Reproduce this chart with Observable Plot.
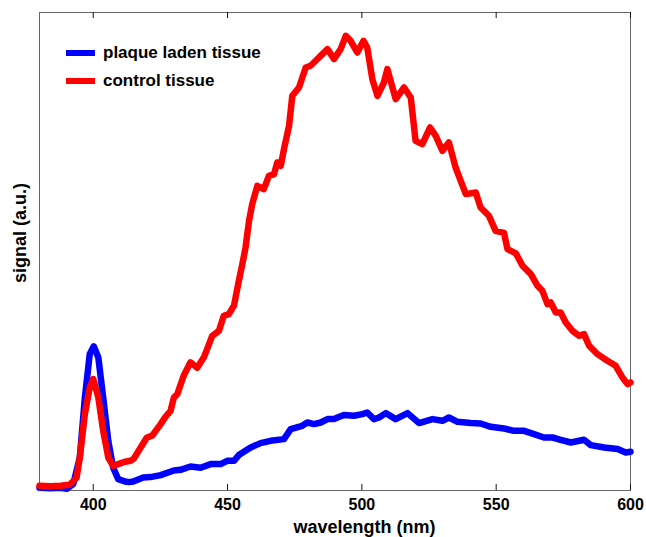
<!DOCTYPE html>
<html>
<head>
<meta charset="utf-8">
<script src="https://cdn.jsdelivr.net/npm/d3@7"></script>
<script src="https://cdn.jsdelivr.net/npm/@observablehq/plot@0.6"></script>
<style>
  body { margin: 0; background: #fff; }
  #wrap { position: relative; width: 646px; height: 537px; font-family: "Liberation Sans", Arial, sans-serif; }
  .legend { position: absolute; left: 0; top: 0; }
  .row { position: absolute; display: flex; align-items: center; white-space: nowrap; font-weight: bold; font-size: 17px; color: #000; }
  .swatch { width: 29px; height: 6px; margin-right: 8px; }
</style>
</head>
<body>
<div id="wrap"></div>
<script>
// Wavelength axis ticks
const xTicks = [400, 450, 500, 550, 600];

// Series labels
const seriesNames = ["plaque laden tissue", "control tissue"];
const seriesColors = ["#0000ff", "#ff0000"];

// plaque laden tissue (blue)
const plaqueWavelength = [380.0,384.1,387.8,390.1,392.6,395.0,396.9,398.7,400.2,401.9,
  403.7,405.6,407.4,409.3,411.8,413.3,414.9,418.6,421.3,425.1,
  430.0,432.5,436.2,440.0,443.7,447.4,449.9,452.4,454.2,458.6,
  462.3,466.0,471.0,473.5,477.8,479.7,482.2,484.7,487.2,489.6,
  493.3,497.1,500.2,502.0,504.5,506.4,508.9,512.6,517.0,521.3,
  526.3,530.0,532.4,535.6,540.5,544.2,548.0,552.9,556.6,560.4,
  564.1,567.8,571.0,574.0,577.8,582.7,585.2,590.2,595.2,598.2,600.0];
const plaqueSignal = [2.7,2.2,2.7,1.7,6.7,33,93,136.4,144.2,133,
  93,49.7,23,11.4,9,8.4,9,13,13.4,15.4,
  20,20.7,24,22.7,26.4,26.4,29.7,29.7,35.4,43,
  47.4,49.7,51.4,61.4,64.7,68,66.4,68,71.4,71.4,
  75.4,74.7,76.4,78,71.4,73,77.4,71.4,77.4,67.4,
  71.4,69.7,73,68.7,67.4,67,63.7,62,59.7,59.7,
  56.4,53,53,50.7,48,50.7,45.4,43,41.4,38,38.7];

// control tissue (red)
const controlWavelength = [380.0,384.1,387.8,391.2,393.8,395.0,396.9,398.7,400.0,401.9,
  403.7,405.6,407.4,409.3,411.8,413.9,415.1,417.6,419.9,422.0,
  425.1,426.9,428.8,430.0,431.3,433.7,436.2,438.7,441.2,444.3,
  446.8,448.6,450.5,452.4,454.2,455.6,456.7,458.0,459.2,461.1,
  463.5,465.4,467.3,468.5,469.8,471.0,472.9,474.1,476.6,479.1,
  480.9,482.8,485.3,487.2,489.6,492.1,494.0,495.8,498.3,500.6,
  502.0,503.9,505.8,508.2,509.5,510.7,512.6,515.7,518.2,520.0,
  522.5,525.4,527.5,530.0,532.4,534.9,536.8,538.7,542.4,544.2,
  547.3,549.8,552.9,554.2,557.3,559.8,562.9,565.4,567.2,569.1,
  570.3,572.2,574.0,575.9,578.4,580.9,582.7,584.6,587.7,591.4,
  594.5,597.0,598.9,600.0];
const controlSignal = [4.7,4.2,4.7,5.7,12.7,33,76.7,103,111.4,93,
  59.7,33,24.7,26.4,28.7,29.7,31.7,42.7,52.7,55,
  66.4,73.7,79.7,92.7,96.4,115,128.2,122.7,133.2,154.7,
  159.7,174.7,176.4,185,209.7,227.7,243,269.7,286.7,304.7,
  301.4,314.7,316.4,328,324.7,341.4,364.7,394.7,403,423,
  424.7,429.7,436.4,441.4,431.4,441.4,454.7,449.7,438,449.7,
  443,411.4,394.7,408,421.4,409.7,391.4,403,393,349.7,
  346.4,363,354.7,339.7,348,323,309.7,296.4,298,283,
  274.7,259.7,257.7,241.4,237.2,224.7,216.4,204.7,199.7,186.4,
  188,178,178,168,159.7,154.7,156.4,144.7,136.4,129.7,
  124.7,113,106.4,108];

const xLabel = "wavelength (nm)";
const yLabel = "signal (a.u.)";

const plaque = plaqueWavelength.map((w, i) => ({wavelength: w, signal: plaqueSignal[i]}));
const control = controlWavelength.map((w, i) => ({wavelength: w, signal: controlSignal[i]}));

const chart = Plot.plot({
  width: 646,
  height: 537,
  marginLeft: 39,
  marginRight: 16,
  marginTop: 12,
  marginBottom: 47,
  style: {fontFamily: "'Liberation Sans', Arial, sans-serif", fontWeight: "bold", color: "#000", background: "#fff"},
  x: {domain: [380, 600], axis: null},
  y: {domain: [0, 478], axis: null},
  marks: [
    Plot.frame({stroke: "#666", strokeWidth: 1}),
    Plot.tickX(xTicks, {x: d => d, stroke: "#111", insetTop: 472}),
    Plot.tickX(xTicks, {x: d => d, stroke: "#111", insetBottom: 472}),
    Plot.axisX({ticks: xTicks, tickSize: 0, tickPadding: 8, fontSize: 16, fontWeight: "bold", label: null}),
    Plot.line(plaque, {x: "wavelength", y: "signal", stroke: seriesColors[0], strokeWidth: 6.5, strokeLinejoin: "round", strokeLinecap: "round"}),
    Plot.line(control, {x: "wavelength", y: "signal", stroke: seriesColors[1], strokeWidth: 6.5, strokeLinejoin: "round", strokeLinecap: "round"}),
    Plot.text([xLabel], {text: d => d, frameAnchor: "bottom", textAnchor: "middle", lineAnchor: "middle", dx: 29.5, dy: 37, fontSize: 18, fontWeight: "bold"}),
    Plot.text([yLabel], {text: d => d, frameAnchor: "left", textAnchor: "middle", lineAnchor: "middle", rotate: -90, dx: -19, dy: -18.5, fontSize: 18, fontWeight: "bold"})
  ]
});

const wrap = document.getElementById("wrap");
wrap.appendChild(chart);

// Legend overlay inside the plot area
const legend = document.createElement("div");
legend.className = "legend";
seriesNames.forEach((name, i) => {
  const row = document.createElement("div");
  row.className = "row";
  row.style.left = "66px";
  row.style.top = (42 + i * 28) + "px";
  row.style.height = "22px";
  const sw = document.createElement("span");
  sw.className = "swatch";
  sw.style.background = seriesColors[i];
  const tx = document.createElement("span");
  tx.textContent = name;
  row.appendChild(sw);
  row.appendChild(tx);
  legend.appendChild(row);
});
wrap.appendChild(legend);
</script>
</body>
</html>
